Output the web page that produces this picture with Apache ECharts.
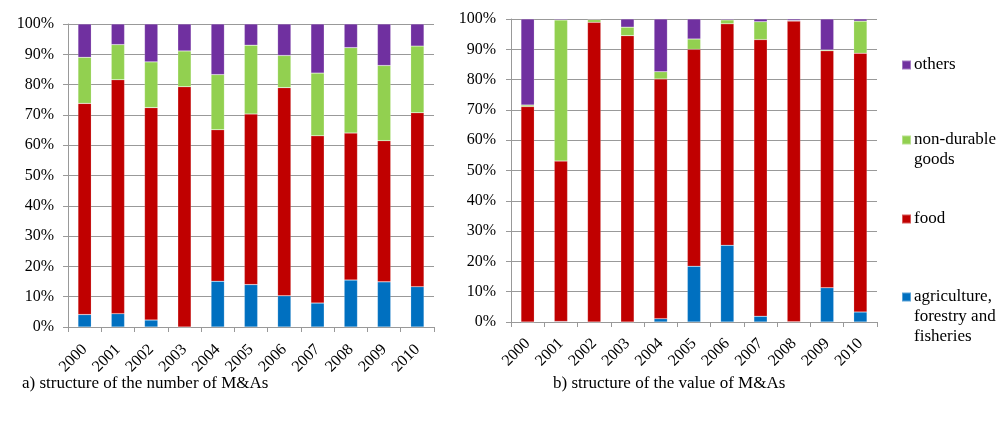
<!DOCTYPE html>
<html><head><meta charset="utf-8">
<script src="https://cdn.jsdelivr.net/npm/echarts@6/dist/echarts.min.js"></script>
<style>html,body{margin:0;padding:0;background:#fff}#c{width:998px;height:421px}</style>
</head><body><div id="c"></div>
<script>
const years = ['2000','2001','2002','2003','2004','2005','2006','2007','2008','2009','2010'];
const yTicks = [0,10,20,30,40,50,60,70,80,90,100];
// a) structure of the number of M&As (%)
const numAgri  = [4.1,4.4,2.3,0,15.1,14.0,10.3,7.9,15.5,14.9,13.3];
const numFood  = [69.7,77.2,70.1,79.3,50.0,56.3,68.7,55.2,48.5,46.6,57.4];
const numNonDur= [15.2,11.6,15.1,11.8,18.2,22.7,10.6,20.7,28.2,24.8,22.0];
const numOther = [11.0,6.8,12.5,8.9,16.7,7.0,10.4,16.2,7.8,13.7,7.3];
// b) structure of the value of M&As (%)
const valAgri  = [0,0.2,0,0,1.1,18.4,25.3,1.9,0.1,11.3,3.3];
const valFood  = [71.1,52.9,98.9,94.5,79.1,71.6,73.1,91.3,99.2,78.2,85.4];
const valNonDur= [0.5,46.6,0.9,2.8,2.4,3.4,1.3,5.9,0.2,0.3,10.6];
const valOther = [28.4,0.3,0.2,2.7,17.4,6.6,0.3,0.9,0.5,10.2,0.7];
const names = ['agriculture,\nforestry and\nfisheries','food','non-durable\ngoods','others'];
const colors = ['#0070C0','#C00000','#92D050','#7030A0'];
const titles = ['a) structure of the number of M&As','b) structure of the value of M&As'];

const font = '"Liberation Serif", "Times New Roman", serif';
const chart = echarts.init(document.getElementById('c'));
const grids = [
  {left:68, top:24, width:366, height:303},
  {left:511, top:19, width:366, height:303}
];
function xAx(i){return {type:'category', gridIndex:i, data:years, boundaryGap:true,
  axisLine:{lineStyle:{color:'#999',width:1}},
  axisTick:{show:true, alignWithLabel:false, length:5, lineStyle:{color:'#999'}},
  axisLabel:{rotate:45, interval:0, color:'#000', fontFamily:font, fontSize:16, margin:i===0?20:19}};}
function yAx(i){return {type:'value', gridIndex:i, min:yTicks[0], max:yTicks[yTicks.length-1], interval:10,
  axisLine:{show:true, lineStyle:{color:'#999',width:1}},
  axisTick:{show:true, length:5, lineStyle:{color:'#999'}},
  splitLine:{show:true, lineStyle:{color:'#999',width:1}},
  axisLabel:{formatter:'{value}%', color:'#000', fontFamily:font, fontSize:16, margin:i===0?14:15}};}
const sets = [[numAgri,numFood,numNonDur,numOther],[valAgri,valFood,valNonDur,valOther]];
const series = [];
sets.forEach((s,gi)=>{
  s.forEach((d,k)=>{
    series.push({type:'bar', name:names[k], xAxisIndex:gi, yAxisIndex:gi, stack:'s'+gi,
      data:d, barWidth:'40%', itemStyle:{color:colors[k], borderColor:'rgba(255,255,255,0.35)', borderWidth:0.5},
      emphasis:{disabled:true}});
  });
});
const legendTops = [55, 110, 209, 247];
const legendText = ['others','\nnon-durable\ngoods','food','\n\nagriculture,\nforestry and\nfisheries'];
const legendNames = [names[3],names[2],names[1],names[0]];
const legends = legendNames.map((n,i)=>({
  left:901, top:legendTops[i], orient:'vertical', padding:0, data:[n], icon:'rect', itemWidth:9, itemHeight:9, itemGap:4,
  formatter:()=>legendText[i],
  textStyle:{fontFamily:font, fontSize:17, color:'#000', lineHeight:20, padding:[0,0,0,-2]}
}));
chart.setOption({
  animation:false,
  color:colors,
  grid:grids,
  xAxis:[xAx(0),xAx(1)],
  yAxis:[yAx(0),yAx(1)],
  legend:legends,
  title:[
    {text:titles[0], left:22, top:375, padding:0, textStyle:{fontFamily:font, fontSize:17, fontWeight:'normal', color:'#000'}},
    {text:titles[1], left:553, top:375, padding:0, textStyle:{fontFamily:font, fontSize:17, fontWeight:'normal', color:'#000'}}
  ],
  series:series
});
</script></body></html>
